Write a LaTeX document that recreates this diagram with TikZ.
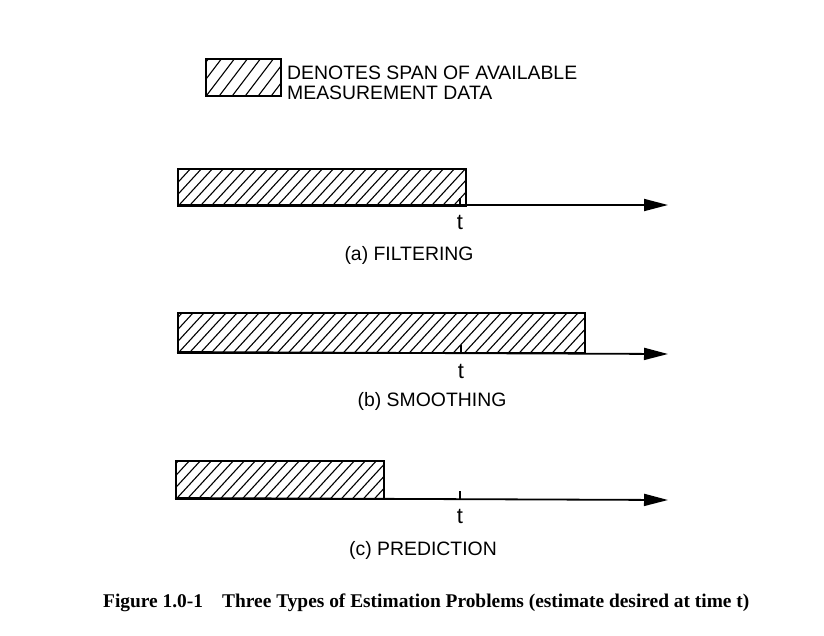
\documentclass[tikz,border=0pt]{standalone}
\usepackage{fontspec}
\setmainfont{Liberation Serif}
\newfontfamily\labelfont{Liberation Sans}
\usetikzlibrary{arrows.meta}
\tikzset{
  databar/.style={draw, line width=2.2pt, inner sep=0pt, anchor=north west,
    path picture={
      \foreach \i in {-8,...,42} {
        \draw[line width=1.1pt] ([xshift=\i*11pt]path picture bounding box.south west) -- ++(46pt,50pt);
      }}},
  legendbar/.style={draw, line width=2.2pt, inner sep=0pt, anchor=north west,
    path picture={
      \foreach \i in {-4,...,8} {
        \draw[line width=1.1pt] ([xshift=\i*13pt]path picture bounding box.south west) -- ++(38pt,50pt);
      }}},
  axis/.style={line width=1.8pt, -{Triangle[length=24pt,width=12pt]}},
  tickmark/.style={line width=1.8pt},
  lbl/.style={font=\labelfont\fontsize{19.4}{22}\selectfont, inner sep=0pt},
  tlbl/.style={font=\labelfont\fontsize{22}{24}\selectfont, inner sep=0pt},
  figcap/.style={font=\bfseries\fontsize{19.4}{22}\selectfont, inner sep=0pt, anchor=west},
}
\begin{document}
\begin{tikzpicture}[x=1pt,y=-1pt]
\useasboundingbox (0,0) rectangle (824,635);
% legend
\node[legendbar, minimum width=75pt, minimum height=37pt] (leg) at (205,58) {};
\node[lbl, anchor=west] (legt1) at (287,73) {DENOTES SPAN OF AVAILABLE};
\node[lbl, anchor=west] (legt2) at (287,93) {MEASUREMENT DATA};
% (a) filtering
\node[databar, minimum width=288pt, minimum height=37pt] (bara) at (177,168) {};
\coordinate (a0) at (177,205);
\coordinate (a1) at (668,205);
\draw[axis] (a0) -- (a1);
\coordinate (ta) at (460,205);
\draw[tickmark] (ta) -- ++(0,-7);
\node[tlbl] (tla) at (460,222) {t};
\node[lbl] (capa) at (409,255) {(a) FILTERING};
% (b) smoothing
\node[databar, minimum width=407pt, minimum height=40pt] (barb) at (177,312) {};
\coordinate (b0) at (177,352);
\coordinate (b1) at (668,354);
\draw[axis] (b0) -- (b1);
\coordinate (tb) at (461,352);
\draw[tickmark] (tb) -- ++(0,-7);
\node[tlbl] (tlb) at (461,371) {t};
\node[lbl] (capb) at (432,401) {(b) SMOOTHING};
% (c) prediction
\node[databar, minimum width=208pt, minimum height=38pt] (barc) at (175,460) {};
\coordinate (c0) at (175,498);
\coordinate (c1) at (668,500);
\draw[axis] (c0) -- (c1);
\coordinate (tc) at (460,499);
\draw[tickmark] (tc) -- ++(0,-8);
\node[tlbl] (tlc) at (460,516) {t};
\node[lbl] (capc) at (423,550) {(c) PREDICTION};
% caption
\node[figcap] (fig) at (103,603) {Figure 1.0-1};
\node[figcap] (figt) at (222,603) {Three Types of Estimation Problems (estimate desired at time t)};
\end{tikzpicture}
\end{document}
